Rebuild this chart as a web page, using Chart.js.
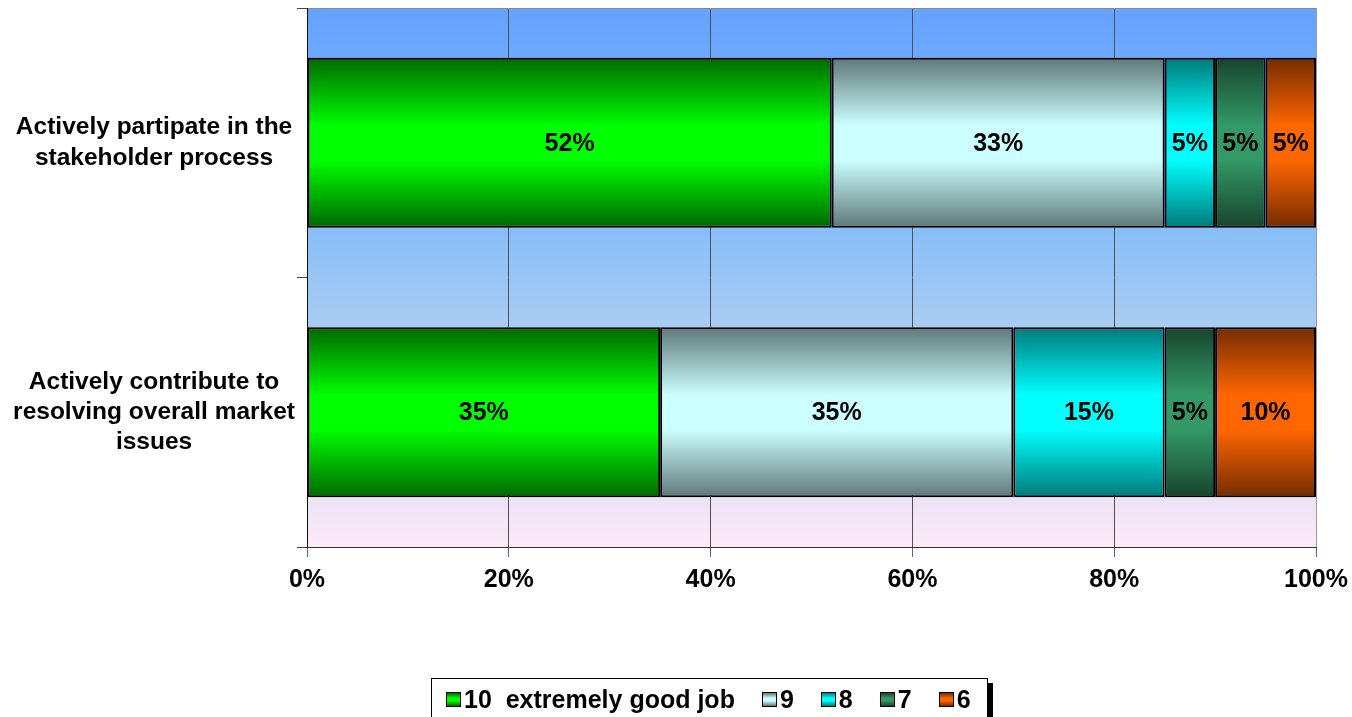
<!DOCTYPE html>
<html>
<head>
<meta charset="utf-8">
<title>Stakeholder participation ratings</title>
<script src="https://cdn.jsdelivr.net/npm/chart.js@4.4.1/dist/chart.umd.min.js"></script>
<style>
  body { margin: 0; background: #fff; }
  #wrap { position: relative; width: 1352px; height: 717px; overflow: hidden; }
  #legend {
    position: absolute; left: 431px; top: 678px; width: 541px; height: 60px;
    padding-left: 14px; box-sizing: content-box;
    border: 1px solid #000; box-shadow: 5px 5px 0 #000; background: #fff;
    display: flex; align-items: flex-start;
    font: bold 25px "Liberation Sans", Arial, sans-serif; color: #000;
  }
  .item { display: flex; align-items: center; margin-top: 6px; margin-right: 27px; white-space: pre; }
  .swatch { width: 13px; height: 13px; border: 1px solid #000; margin-right: 3px; }
</style>
</head>
<body>
<div id="wrap">
  <canvas id="ratingChart" width="1352" height="717"></canvas>
  <div id="legend"></div>
</div>
<script>
// categories and shares (%) for each score
const categories = [
  ["Actively partipate in the", "stakeholder process"],
  ["Actively contribute to", "resolving overall market", "issues"],
];
const seriesNames = ["10  extremely good job", "9", "8", "7", "6"];
const score10 = [52, 35];
const score9 = [33, 35];
const score8 = [5, 15];
const score7 = [5, 5];
const score6 = [5, 10];
const xTickStep = 20;

// dark edge / bright centre for each series
const shades = [
  { dark: "#006800", light: "#00ff00" },
  { dark: "#5f7878", light: "#ccffff" },
  { dark: "#007a7a", light: "#00ffff" },
  { dark: "#17442e", light: "#339966" },
  { dark: "#742c00", light: "#ff6600" },
];
const CAT_PCT = 0.63;
const FONT = '"Liberation Sans", Arial, sans-serif';

function barFill(i) {
  return (c) => {
    const chart = c.chart;
    const area = chart.chartArea;
    if (!area || c.dataIndex === undefined) return shades[i].light;
    const y = chart.scales.y.getPixelForValue(c.dataIndex);
    const h = ((area.bottom - area.top) / categories.length) * CAT_PCT;
    const g = chart.ctx.createLinearGradient(0, y - h / 2, 0, y + h / 2);
    g.addColorStop(0, shades[i].dark);
    g.addColorStop(0.4, shades[i].light);
    g.addColorStop(0.6, shades[i].light);
    g.addColorStop(1, shades[i].dark);
    return g;
  };
}

// blue-to-pink plot background
const plotBackground = {
  id: "plotBackground",
  beforeDraw(chart) {
    const { ctx, chartArea: a } = chart;
    const g = ctx.createLinearGradient(0, a.top, 0, a.bottom);
    g.addColorStop(0, "#64a2ff");
    g.addColorStop(0.41, "#88bef8");
    g.addColorStop(0.59, "#a9ccf2");
    g.addColorStop(0.91, "#ebe3f5");
    g.addColorStop(1, "#fdeaf8");
    ctx.save();
    ctx.fillStyle = g;
    ctx.fillRect(a.left, a.top, a.right - a.left, a.bottom - a.top);
    ctx.restore();
  },
};

// percentage text in the middle of every segment
const valueLabels = {
  id: "valueLabels",
  afterDatasetsDraw(chart) {
    const ctx = chart.ctx;
    ctx.save();
    ctx.font = "bold 25px " + FONT;
    ctx.fillStyle = "#000";
    ctx.textAlign = "center";
    ctx.textBaseline = "middle";
    chart.data.datasets.forEach((ds, i) => {
      chart.getDatasetMeta(i).data.forEach((bar, j) => {
        ctx.fillText(ds.data[j] + "%", (bar.x + bar.base) / 2, bar.y + 1);
      });
    });
    ctx.restore();
  },
};

const seriesData = [score10, score9, score8, score7, score6];

const ctx = document.getElementById("ratingChart").getContext("2d");
const ratingChart = new Chart(ctx, {
  type: "bar",
  data: {
    labels: categories,
    datasets: seriesNames.map((name, i) => ({
      label: name,
      data: seriesData[i],
      backgroundColor: barFill(i),
      borderColor: "#000",
      borderWidth: 2,
      borderSkipped: false,
      categoryPercentage: CAT_PCT,
      barPercentage: 1,
    })),
  },
  options: {
    indexAxis: "y",
    responsive: false,
    animation: false,
    layout: { padding: { top: 8, right: 36, left: 0, bottom: 0 } },
    scales: {
      x: {
        stacked: true,
        min: 0,
        max: 100,
        afterFit: (scale) => {
          scale.height = 170;
          scale.paddingLeft = 0;
          scale.paddingRight = 0;
        },
        ticks: {
          stepSize: xTickStep,
          padding: 8,
          color: "#000",
          font: { family: FONT, size: 25, weight: "bold" },
          callback: (v) => v + "%",
        },
        grid: {
          color: (c) => (c.tick && c.tick.value === 100 ? "#9a9a9a" : "#505050"),
          tickColor: "#666",
          tickLength: 10,
        },
        border: { color: "#333", width: 1 },
      },
      y: {
        stacked: true,
        afterFit: (scale) => {
          scale.width = 307;
          scale.paddingTop = 0;
          scale.paddingBottom = 0;
        },
        ticks: {
          padding: 2,
          crossAlign: "center",
          color: "#000",
          font: { family: FONT, size: 24.5, weight: "bold", lineHeight: 1.24 },
        },
        grid: {
          color: (c) => (c.index === 0 ? "#8c8c8c" : "rgba(0,0,0,0)"),
          tickColor: "#444",
          tickLength: 10,
        },
        border: { color: "#111", width: 1 },
      },
    },
    plugins: {
      legend: { display: false },
      tooltip: { enabled: false },
    },
  },
  plugins: [plotBackground, valueLabels],
});

// legend under the chart
const legendEl = document.getElementById("legend");
seriesNames.forEach((name, i) => {
  const item = document.createElement("div");
  item.className = "item";
  const sw = document.createElement("span");
  sw.className = "swatch";
  sw.style.background = "linear-gradient(" + shades[i].dark + "," + shades[i].light + " 40%," + shades[i].light + " 60%," + shades[i].dark + ")";
  item.appendChild(sw);
  item.appendChild(document.createTextNode(name));
  legendEl.appendChild(item);
});
</script>
</body>
</html>
